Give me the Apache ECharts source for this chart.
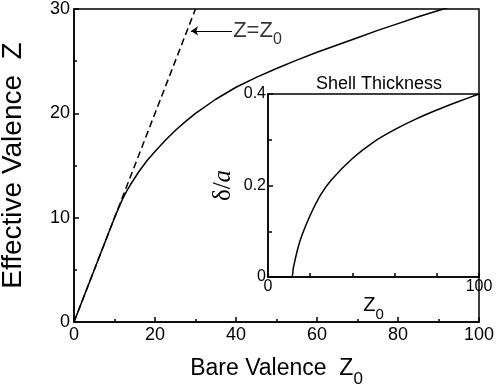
<!doctype html>
<html lang="en">
  <head>
    <meta charset="UTF-8" />
    <title>effective valence</title>
    <script src="https://fastly.jsdelivr.net/npm/echarts@6/dist/echarts.min.js"></script>
    <style type="text/css">
      * {
        margin: 0;
        padding: 0;
      }
      html,
      body,
      #chart {
        width: 100%;
        height: 100%;
        overflow: hidden;
        background: #fff;
      }
    </style>
  </head>
  <body>
    <div id="chart"></div>
  </body>
  <script>
    // main panel: effective valence vs bare valence
    const bareZ0 = [0, 10, 12, 13, 14, 16, 18, 20, 22.5, 25, 27.5, 30, 35, 40, 45, 50, 55, 60, 65, 70, 75, 80, 85, 90, 95, 100];
    const effZ = [0, 10, 11.8, 12.55, 13.2, 14.4, 15.45, 16.35, 17.4, 18.35, 19.2, 20.0, 21.35, 22.5, 23.45, 24.3, 25.1, 25.85, 26.55, 27.25, 27.95, 28.6, 29.25, 29.85, 30.45, 31.0];
    // Z = Z0 reference line
    const identX = [0, 30];
    const identY = [0, 30];
    // arrow annotation (tail, head) and label anchor
    const arrowTail = [39, 27.9];
    const arrowHead = [28.9, 27.9];
    const labelAt = [39.3, 27.9];
    // inset: shell thickness
    const insetZ0 = [0, 11, 12, 14, 16, 20, 25, 30, 40, 50, 60, 70, 80, 90, 100];
    const insetDelta = [0, 0, 0.02, 0.06, 0.09, 0.135, 0.18, 0.212, 0.259, 0.295, 0.322, 0.345, 0.365, 0.383, 0.4];

    const zip = (xs, ys) => xs.map((x, i) => [x, ys[i]]);
    const font = 'Liberation Sans, Arial, sans-serif';
    const black = '#000';

    const chart = echarts.init(document.getElementById('chart'));
    const option = {
      animation: false,
      backgroundColor: '#fff',
      title: {
        text: 'Shell Thickness',
        left: 374,
        top: 70,
        textAlign: 'center',
        textStyle: { fontFamily: font, fontSize: 18, fontWeight: 'normal', color: black },
      },
      grid: [
        {
          left: 74, right: 19, top: 9, bottom: 67,
          outerBoundsMode: 'none', containLabel: false,
          show: true, borderColor: black, borderWidth: 1.5,
        },
        {
          left: 268, right: 19, top: 94, bottom: 112,
          outerBoundsMode: 'none', containLabel: false,
          show: true, borderColor: black, borderWidth: 1.5, backgroundColor: '#fff',
        },
      ],
      xAxis: [
        {
          gridIndex: 0,
          type: 'value',
          min: 0,
          max: 100,
          interval: 20,
          name: '{a|Bare Valence  Z}{s|0}',
          nameLocation: 'middle',
          nameGap: 27,
          nameTextStyle: {
            rich: {
              a: { fontFamily: font, fontSize: 23, color: black },
              s: { fontFamily: font, fontSize: 17, color: black, padding: [22, 0, 0, 0] },
            },
          },
          axisLine: { lineStyle: { color: black, width: 1.5 } },
          axisTick: { inside: true, length: 5, lineStyle: { color: black, width: 1.5 } },
          minorTick: { show: true, splitNumber: 2, length: 3, lineStyle: { color: black, width: 1.5 } },
          axisLabel: { fontFamily: font, fontSize: 18, color: black, margin: 4 },
          splitLine: { show: false },
        },
        {
          gridIndex: 1,
          type: 'value',
          min: 0,
          max: 100,
          interval: 100,
          name: '{a|Z}{s|0}',
          nameLocation: 'middle',
          nameGap: 8,
          nameTextStyle: {
            rich: {
              a: { fontFamily: font, fontSize: 20, color: black },
              s: { fontFamily: font, fontSize: 15, color: black, padding: [18, 0, 0, 0] },
            },
          },
          axisLine: { lineStyle: { color: black, width: 1.5 } },
          axisTick: { inside: true, length: 4, lineStyle: { color: black, width: 1.5 } },
          minorTick: { show: true, splitNumber: 5, length: 4, lineStyle: { color: black, width: 1.5 } },
          axisLabel: { fontFamily: font, fontSize: 16, color: black, margin: 2 },
          splitLine: { show: false },
        },
      ],
      yAxis: [
        {
          gridIndex: 0,
          type: 'value',
          min: 0,
          max: 30,
          interval: 10,
          name: 'Effective Valence  Z',
          nameLocation: 'middle',
          nameGap: 47,
          nameTextStyle: { fontFamily: font, fontSize: 28, color: black },
          axisLine: { lineStyle: { color: black, width: 1.5 } },
          axisTick: { inside: true, length: 5, lineStyle: { color: black, width: 1.5 } },
          minorTick: { show: true, splitNumber: 2, length: 3, lineStyle: { color: black, width: 1.5 } },
          axisLabel: { fontFamily: font, fontSize: 18, color: black, margin: 4 },
          splitLine: { show: false },
        },
        {
          gridIndex: 1,
          type: 'value',
          min: 0,
          max: 0.4,
          interval: 0.2,
          name: '{d|δ/}{i|a}',
          nameLocation: 'middle',
          nameGap: 32,
          nameTextStyle: {
            rich: {
              d: { fontFamily: 'Liberation Serif, serif', fontSize: 25, color: black },
              i: { fontFamily: 'Liberation Serif, serif', fontSize: 25, fontStyle: 'italic', color: black },
            },
          },
          axisLine: { lineStyle: { color: black, width: 1.5 } },
          axisTick: { inside: true, length: 5, lineStyle: { color: black, width: 1.5 } },
          minorTick: { show: true, splitNumber: 2, length: 4, lineStyle: { color: black, width: 1.5 } },
          axisLabel: { fontFamily: font, fontSize: 16, color: black, margin: 2 },
          splitLine: { show: false },
        },
      ],
      series: [
        {
          type: 'line',
          xAxisIndex: 0,
          yAxisIndex: 0,
          data: zip(identX, identY),
          showSymbol: false,
          lineStyle: { color: black, width: 1.5, type: [7, 4] },
        },
        {
          type: 'line',
          xAxisIndex: 0,
          yAxisIndex: 0,
          data: zip(bareZ0, effZ),
          showSymbol: false,
          smooth: false,
          lineStyle: { color: black, width: 1.5 },
        },
        {
          type: 'lines',
          coordinateSystem: 'cartesian2d',
          xAxisIndex: 0,
          yAxisIndex: 0,
          symbol: ['none', 'arrow'],
          symbolSize: 7,
          lineStyle: { color: black, width: 1, opacity: 1 },
          data: [{ coords: [arrowTail, arrowHead] }],
        },
        {
          type: 'scatter',
          xAxisIndex: 0,
          yAxisIndex: 0,
          symbolSize: 0,
          data: [labelAt],
          label: {
            show: true,
            position: 'right',
            distance: 0,
            formatter: '{a|Z=Z}{s|0}',
            rich: {
              a: { fontFamily: font, fontSize: 22, color: black },
              s: { fontFamily: font, fontSize: 16, color: black, padding: [18, 0, 0, 0] },
            },
          },
        },
        {
          type: 'line',
          xAxisIndex: 1,
          yAxisIndex: 1,
          data: zip(insetZ0, insetDelta),
          showSymbol: false,
          smooth: 0.3,
          lineStyle: { color: black, width: 1.5 },
        },
      ],
    };
    chart.setOption(option);
  </script>
</html>
